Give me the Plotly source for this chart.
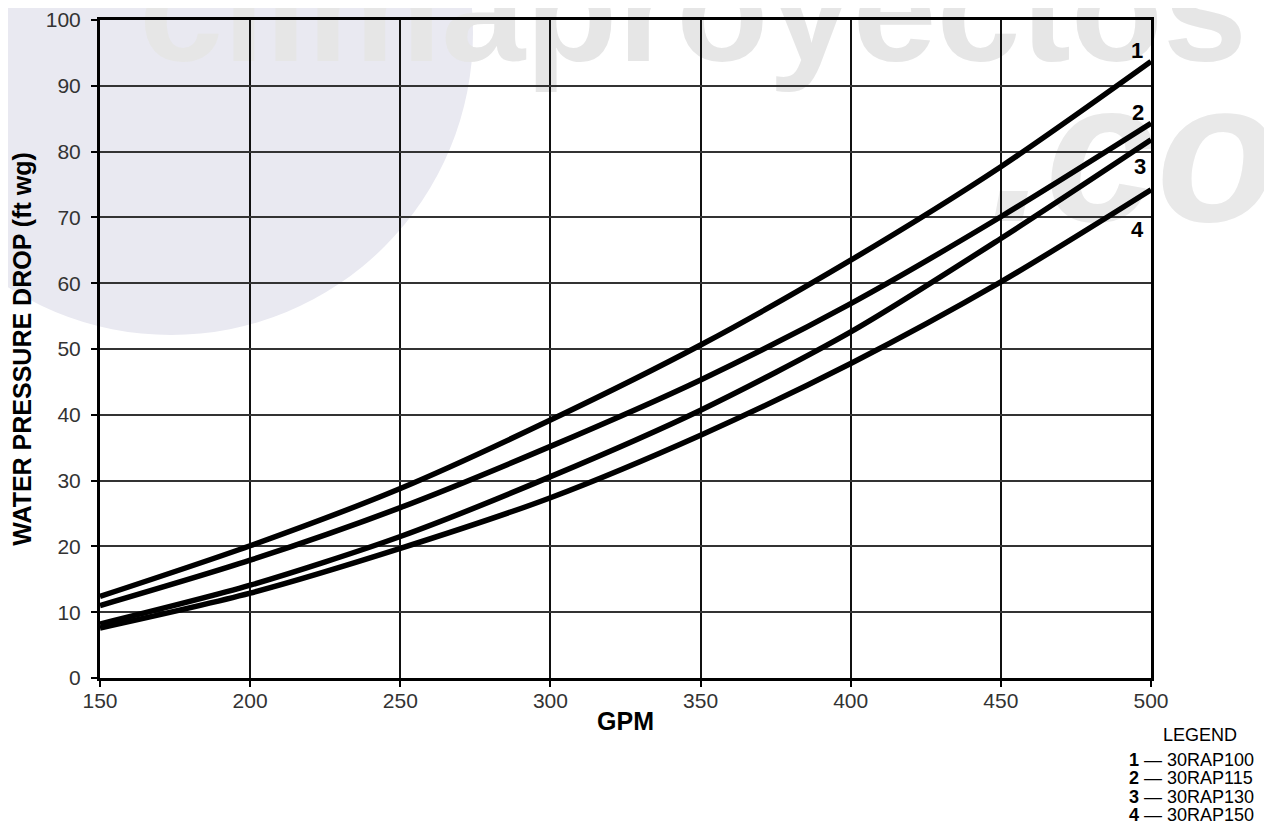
import plotly.graph_objects as go

# ---- data ----
gpm = [150, 200, 250, 300, 350, 400, 450, 500]
drop_100 = [12.4, 20.1, 28.8, 39.2, 50.6, 63.5, 77.7, 93.7]
drop_115 = [11.0, 17.9, 25.9, 35.2, 45.3, 56.9, 70.1, 84.3]
drop_130 = [8.2, 14.1, 21.5, 30.6, 40.7, 52.6, 66.8, 81.8]
drop_150 = [7.6, 12.9, 19.7, 27.4, 36.9, 47.8, 60.2, 74.2]
curve_ids = ["1", "2", "3", "4"]
models = ["30RAP100", "30RAP115", "30RAP130", "30RAP150"]
label_x = [495.3, 495.6, 496.3, 495.6]
label_y = [95.4, 85.9, 77.7, 68.1]
x_ticks = [150, 200, 250, 300, 350, 400, 450, 500]
y_ticks = [0, 10, 20, 30, 40, 50, 60, 70, 80, 90, 100]

# page is 1272x824 but the html body has an 8px margin
OFF = 8
W, H = 1272 - OFF, 824 - OFF
L, R, T, B = 100, 1151, 20, 678   # plot area in screen pixels


def px(x):
    return (x - L) / (R - L)


def py(y):
    return (B - y) / (B - T)


FONT = "Liberation Sans, Arial, Helvetica, sans-serif"

fig = go.Figure()
for ys, name in zip([drop_100, drop_115, drop_130, drop_150], models):
    fig.add_trace(go.Scatter(
        x=gpm, y=ys, mode="lines", name=name,
        line=dict(color="black", width=5.5, shape="spline", smoothing=0.8),
        showlegend=False, hoverinfo="skip"))

annotations = []
for cid, lx, ly in zip(curve_ids, label_x, label_y):
    annotations.append(dict(x=lx, y=ly, xref="x", yref="y", text="<b>%s</b>" % cid,
                            showarrow=False, font=dict(family=FONT, size=22, color="black"),
                            xanchor="center", yanchor="middle"))

# legend block (text)
annotations.append(dict(x=px(1200), y=py(735), xref="paper", yref="paper", text="LEGEND",
                        showarrow=False, font=dict(family=FONT, size=18, color="black"),
                        xanchor="center", yanchor="middle"))
leg_y = [760, 778, 797, 815]
for cid, m, ly in zip(curve_ids, models, leg_y):
    annotations.append(dict(x=px(1127), y=py(ly), xref="paper", yref="paper",
                            text="<b>%s</b> \u2014 %s" % (cid, m),
                            showarrow=False, font=dict(family=FONT, size=18, color="black"),
                            xanchor="left", yanchor="middle"))

# faint background watermark
shapes = [
    dict(type="circle", xref="paper", yref="paper", layer="below",
         x0=px(171 - 302), x1=px(171 + 302), y0=py(33 + 302), y1=py(33 - 302),
         fillcolor="#e9e9f1", line=dict(width=0)),
    dict(type="rect", xref="paper", yref="paper", layer="below",
         x0=px(593), x1=px(793), y0=py(44), y1=py(-56),
         fillcolor="rgba(0,0,0,0)", line=dict(width=0),
         label=dict(text="climaproyectos", textposition="middle center",
                    font=dict(family=FONT, size=151, color="#e6e6e6", weight="bold"))),
    dict(type="rect", xref="paper", yref="paper", layer="below",
         x0=px(1123), x1=px(1323), y0=py(182), y1=py(82),
         fillcolor="rgba(0,0,0,0)", line=dict(width=0),
         label=dict(text=".com", textposition="middle center",
                    font=dict(family=FONT, size=200, color="#e9e9e9", weight="bold", style="italic"))),
]

fig.update_layout(
    width=W, height=H,
    margin=dict(l=L - OFF, r=1272 - R, t=T - OFF, b=824 - B),
    paper_bgcolor="white", plot_bgcolor="rgba(0,0,0,0)",
    font=dict(family=FONT, color="#333333"),
    annotations=annotations, shapes=shapes,
    xaxis=dict(range=[150, 500], tickvals=x_ticks, showgrid=True, gridcolor="#111111", gridwidth=2,
               zeroline=False, showline=True, linecolor="black", linewidth=3, mirror=True,
               ticks="outside", ticklen=6, tickwidth=2, tickcolor="black", automargin=False,
               tickfont=dict(family=FONT, size=21, color="#333333"), ticklabelstandoff=-4,
               title=dict(text="<b>GPM</b>", font=dict(family=FONT, size=25, color="black"), standoff=2)),
    yaxis=dict(range=[0, 100], tickvals=y_ticks, showgrid=True, gridcolor="#333333", gridwidth=1.5,
               zeroline=False, showline=True, linecolor="black", linewidth=3, mirror=True,
               ticks="outside", ticklen=6, tickwidth=2, tickcolor="black", automargin=False,
               tickfont=dict(family=FONT, size=21, color="#333333"), ticklabelstandoff=6,
               title=dict(text="<b>WATER PRESSURE DROP (ft wg)</b>",
                          font=dict(family=FONT, size=25, color="black"), standoff=12)),
)

fig.write_html("out.html")
